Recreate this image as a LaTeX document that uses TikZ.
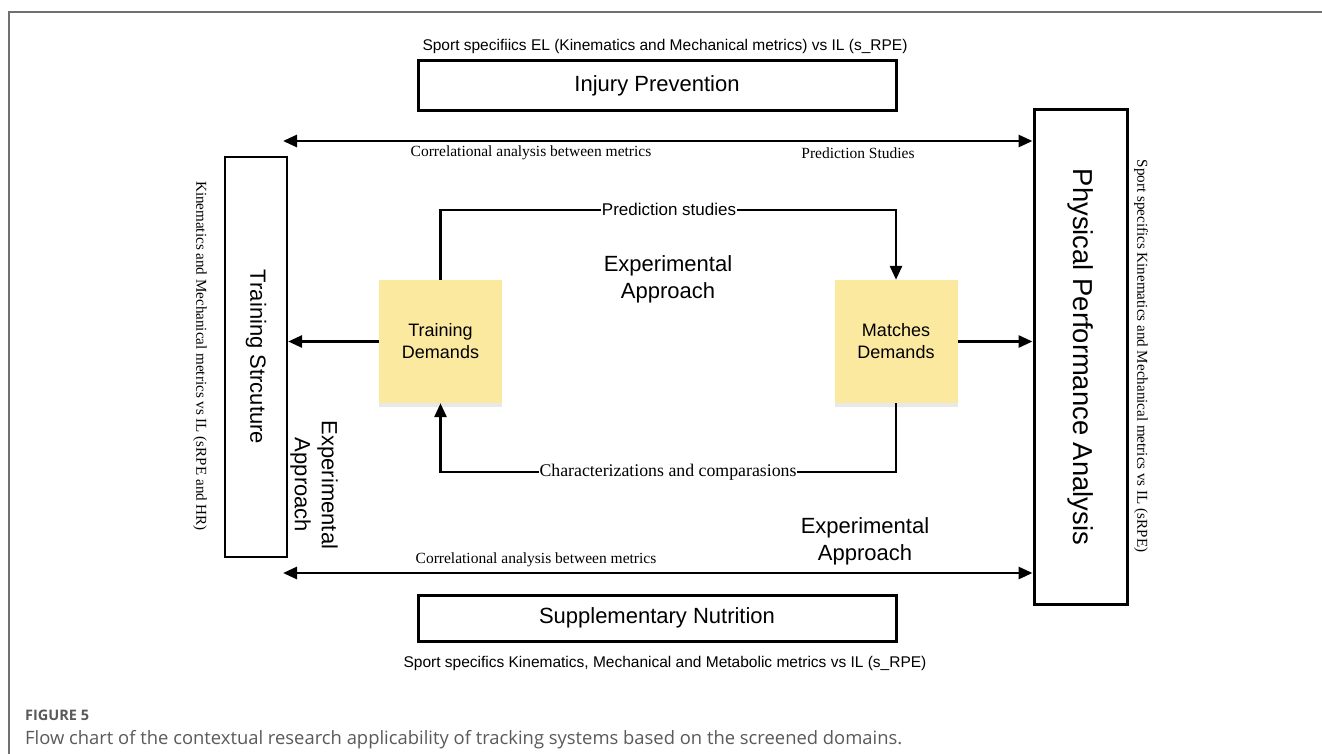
\documentclass[tikz,border=0pt]{standalone}
\usepackage{fontspec}
\setmainfont{Liberation Serif}
\newfontfamily\arial{Liberation Sans}
\newfontfamily\opensans{Open Sans}
\usetikzlibrary{arrows.meta,shadows}
\definecolor{sticky}{HTML}{FCE9A0}
\definecolor{capgray}{HTML}{5A5A5A}
\definecolor{framegray}{HTML}{707070}
\begin{document}
\begin{tikzpicture}[x=1pt,y=-1pt,
  bigbox/.style={draw, line width=3pt, rectangle, inner sep=0pt, font=\arial\fontsize{22}{26}\selectfont},
  note/.style={fill=sticky, rectangle, inner sep=0pt, minimum width=123pt, minimum height=123pt, align=center,
     font=\arial\fontsize{18}{22}\selectfont,
     drop shadow={opacity=0.18, shadow xshift=0pt, shadow yshift=-4pt}},
  conn/.style={line width=2.8pt, -{Triangle[length=14pt,width=12pt]}},
  dconn/.style={line width=2.8pt, {Triangle[length=14pt,width=12pt]}-{Triangle[length=14pt,width=12pt]}},
  serlab/.style={font=\fontsize{15.5}{18}\selectfont, inner sep=1pt},
  sanlab/.style={font=\arial\fontsize{15.5}{18}\selectfont, inner sep=1pt},
  exper/.style={font=\arial\fontsize{22}{27}\selectfont, align=center, inner sep=0pt},
]
\useasboundingbox (0,0) rectangle (1322,754);
\fill[white] (0,0) rectangle (1322,754);
\draw[framegray, line width=1.3pt] (9,754) -- (9,12) -- (1322,12);

% main boxes
\node[bigbox, minimum width=478pt, minimum height=50pt] (inj) at (657,86) {Injury Prevention};
\node[bigbox, minimum width=478pt, minimum height=46pt] (sup) at (657,618) {Supplementary Nutrition};
\node[bigbox, line width=2.3pt, minimum width=400pt, minimum height=62pt, rotate=-90] (ts) at (256,357) {Training Strcuture};
\node[bigbox, minimum width=494pt, minimum height=93pt, rotate=-90, font=\arial\fontsize{27.4}{30}\selectfont] (ppa) at (1080.5,357) {Physical Performance Analysis};

% sticky notes
\node[note] (td) at (440.5,341.5) {Training\\Demands};
\node[note] (md) at (896,341.5) {Matches\\Demands};

% free ends
\coordinate (tl) at (283,141);
\coordinate (bl) at (283,573);
\coordinate (ptop) at (440.5,210);
\coordinate (pbot) at (440.5,472);

% long double arrows (rotated boxes: north = right side, south = left side)
\draw[dconn] (tl) -- (tl -| ppa.south);
\draw[dconn] (bl) -- (bl -| ppa.south);

% side arrows
\draw[conn] (td.west) -- (td.west -| ts.north);
\draw[conn] (md.east) -- (md.east -| ppa.south);

% loops
\draw[conn] (td.north) -- (ptop) -- (ptop -| md.north) -- (md.north);
\draw[conn] (md.south) -- (pbot -| md.south) -- (pbot) -- (td.south);

\node[fill=white, font=\arial\fontsize{17}{20}\selectfont, inner sep=0.5pt] (pl) at (669,209) {Prediction studies};
\node[fill=white, font=\fontsize{17.8}{20}\selectfont, inner sep=0.5pt] (cl) at (668,472) {Characterizations and comparasions};

% labels
\node[sanlab] (toptxt) at (665,46) {Sport specifiics EL (Kinematics and Mechanical metrics) vs IL (s\_RPE)};
\node[sanlab] (bottxt) at (665,663) {Sport specifics Kinematics, Mechanical and Metabolic metrics vs IL (s\_RPE)};
\node[serlab] (c1) at (531,153) {Correlational analysis between metrics};
\node[serlab] (ps) at (858,153) {Prediction Studies};
\node[serlab] (c2) at (536,560) {Correlational analysis between metrics};
\node[serlab, font=\fontsize{15.1}{18}\selectfont, rotate=-90] (lt) at (200,356) {Kinematics and Mechanical metrics vs IL (sRPE and HR)};
\node[serlab, font=\fontsize{15.1}{18}\selectfont, rotate=-90] (rt) at (1141,356) {Sport specifics Kinematics and Mechanical metrics vs IL (sRPE)};

\node[exper] (e1) at (668,279) {Experimental\\Approach};
\node[exper] (e2) at (865,541) {Experimental\\Approach};
\node[exper, rotate=-90] (e3) at (314,485) {Experimental\\Approach};

% caption
\node[anchor=west, inner sep=0pt, text=capgray, font=\opensans\bfseries\fontsize{14.5}{17}\selectfont] (fig) at (25,715) {FIGURE 5};
\node[anchor=west, inner sep=0pt, text=capgray, font=\opensans\fontsize{18.4}{21}\selectfont] (cap) at (25,740) {Flow chart of the contextual research applicability of tracking systems based on the screened domains.};
\end{tikzpicture}
\end{document}
